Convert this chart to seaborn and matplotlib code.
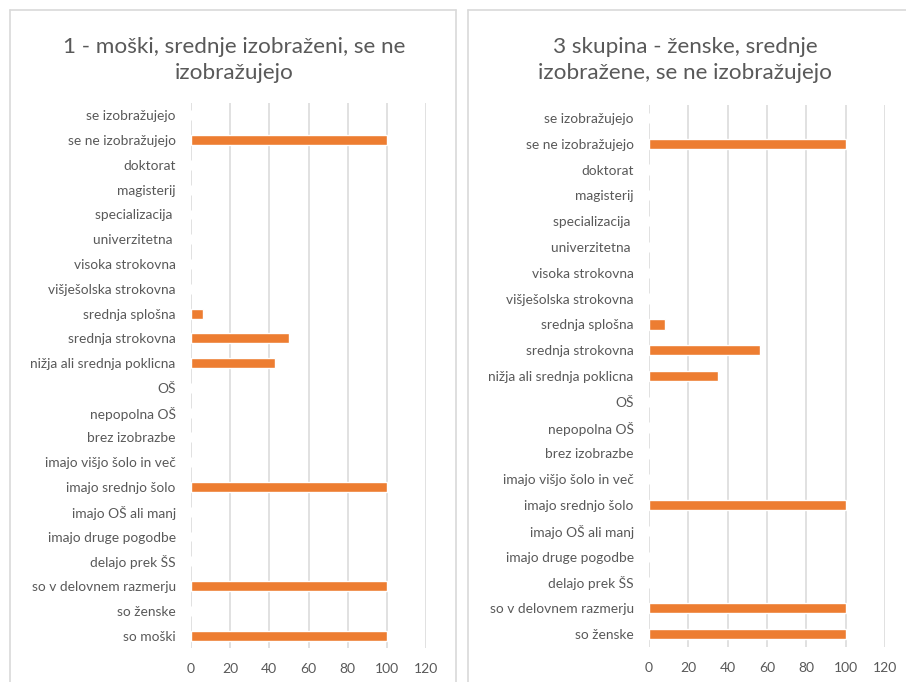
import matplotlib
matplotlib.use("Agg")
import matplotlib.pyplot as plt
import seaborn as sns
import pandas as pd
from matplotlib.lines import Line2D

sns.set_theme(style="white")
plt.rcParams['font.family'] = ['Lato', 'DejaVu Sans']

cats_left = ["se izobražujejo", "se ne izobražujejo", "doktorat", "magisterij",
             "specializacija ", "univerzitetna ", "visoka strokovna",
             "višješolska strokovna", "srednja splošna", "srednja strokovna",
             "nižja ali srednja poklicna", "OŠ", "nepopolna OŠ", "brez izobrazbe",
             "imajo višjo šolo in več", "imajo srednjo šolo", "imajo OŠ ali manj",
             "imajo druge pogodbe", "delajo prek ŠS", "so v delovnem razmerju",
             "so ženske", "so moški"]
vals_left = [0, 100, 0, 0, 0, 0, 0, 0, 6, 50, 43, 0, 0, 0, 0, 100, 0, 0, 0, 100, 0, 100]

cats_right = ["se izobražujejo", "se ne izobražujejo", "doktorat", "magisterij",
              "specializacija ", "univerzitetna ", "visoka strokovna",
              "višješolska strokovna", "srednja splošna", "srednja strokovna",
              "nižja ali srednja poklicna", "OŠ", "nepopolna OŠ", "brez izobrazbe",
              "imajo višjo šolo in več", "imajo srednjo šolo", "imajo OŠ ali manj",
              "imajo druge pogodbe", "delajo prek ŠS", "so v delovnem razmerju",
              "so ženske"]
vals_right = [0, 100, 0, 0, 0, 0, 0, 0, 8, 56.5, 35, 0, 0, 0, 0, 100, 0, 0, 0, 100, 100]

title_left = "1 - moški, srednje izobraženi, se ne\nizobražujejo"
title_right = "3 skupina - ženske, srednje\nizobražene, se ne izobražujejo"
xticks = [0, 20, 40, 60, 80, 100, 120]

W, H = 906, 682
fig = plt.figure(figsize=(W / 100, H / 100), dpi=100)
fig.patch.set_facecolor("white")

def px_axes(l, t, r, b):
    return fig.add_axes([l / W, 1 - b / H, (r - l) / W, (b - t) / H])

border = "#d9d9d9"
fig.add_artist(Line2D([10 / W, 456 / W], [1 - 10 / H, 1 - 10 / H], color=border, lw=1.2))
fig.add_artist(Line2D([10 / W, 10 / W], [1 - 10 / H, 0], color=border, lw=1.2))
fig.add_artist(Line2D([456 / W, 456 / W], [1 - 10 / H, 0], color=border, lw=1.2))
fig.add_artist(Line2D([468 / W, 1], [1 - 10 / H, 1 - 10 / H], color=border, lw=1.2))
fig.add_artist(Line2D([468 / W, 468 / W], [1 - 10 / H, 0], color=border, lw=1.2))

text_c = "#595959"

def draw(ax, cats, vals, title, tcx):
    df = pd.DataFrame({"cat": cats, "val": vals})
    sns.barplot(data=df, x="val", y="cat", order=cats, orient="h",
                color="#ED7D31", saturation=1, width=0.4, ax=ax)
    ax.set_xlim(0, 120)
    ax.set_ylim(len(cats) - 0.5, -0.5)
    ax.set_xticks(xticks)
    ax.set_xticklabels([str(x) for x in xticks])
    for x in xticks:
        ax.axvline(x, color="#d9d9d9", lw=1.1, zorder=0)
    for s in ax.spines.values():
        s.set_visible(False)
    ax.tick_params(axis="both", length=0, colors=text_c)
    ax.tick_params(axis="y", labelsize=9.9, pad=11)
    ax.tick_params(axis="x", labelsize=10, pad=11)
    ax.set_xlabel("")
    ax.set_ylabel("")
    ax.grid(False)
    fig.text(tcx / W, 1 - 60 / H, title, ha="center", va="center",
             fontsize=16.2, color=text_c, linespacing=1.42)

axL = px_axes(191, 103, 426, 648)
draw(axL, cats_left, vals_left, title_left, 234)
axR = px_axes(649, 105, 885, 647)
draw(axR, cats_right, vals_right, title_right, 685)

fig.savefig("out.png", dpi=100, facecolor="white")
